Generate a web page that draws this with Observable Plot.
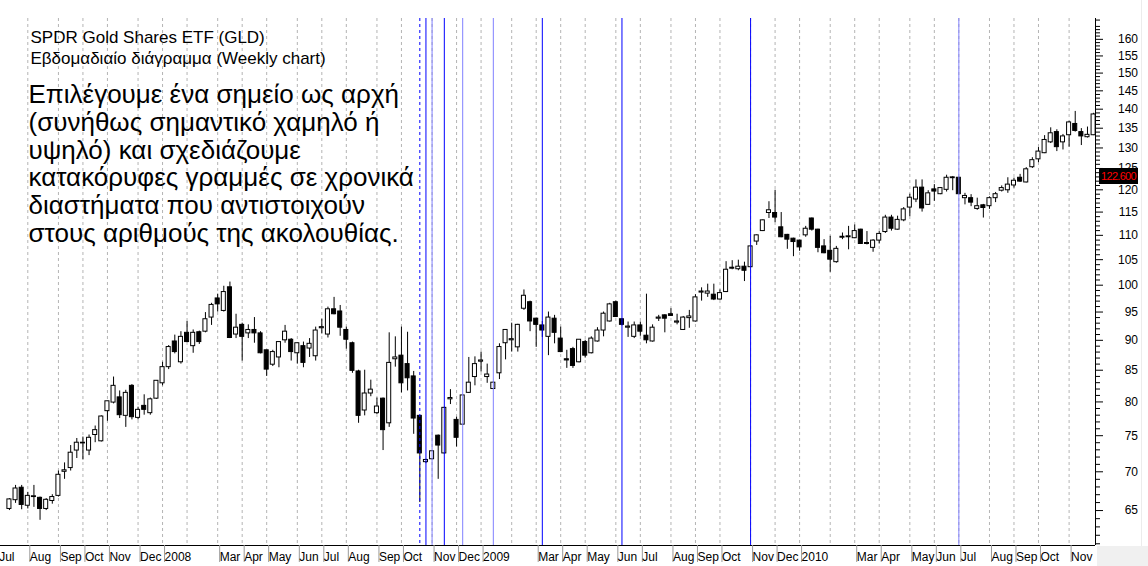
<!DOCTYPE html>
<html><head><meta charset="utf-8">
<script src="https://cdn.jsdelivr.net/npm/d3@7"></script>
<script src="https://cdn.jsdelivr.net/npm/@observablehq/plot@0.6"></script>
<style>
body{margin:0;background:#fff;}
#wrap{position:relative;width:1148px;height:566px;overflow:hidden;font-family:"Liberation Sans",Arial,sans-serif;background:#fff;}
.deco{position:absolute;}
</style></head><body><div id="wrap"></div>
<script>
// Weekly bars; first bar = week index -3 (week of 2007-07-13); week 0 = 2007-08-03
const baseWeek = "2007-08-03";
const firstIndex = -3;
const open = [65.2,66.3,67.9,
65.6,66.7,66.6,65.2,66.2,66.85,70.0,70.5,72.9,73.9,
72.9,75.1,74.2,78.6,79.9,80.7,77.9,82.5,77.6,79.4,
78.3,80.5,82.9,85.5,89.8,86.3,91.3,89.0,91.4,91.5,
94.0,97.5,95.2,99.6,91.0,92.7,91.2,91.8,91.2,88.3,
85.9,87.1,90.0,90.1,87.8,89.0,88.6,87.3,92.1,91.0,
95.5,95.1,91.8,89.5,84.8,78.7,81.3,78.3,80.5,76.8,
86.8,87.4,86.0,84.0,77.9,71.3,71.7,75.0,72.5,80.4,
77.3,76.6,81.4,83.9,86.4,83.9,82.0,84.5,89.5,90.0,
88.8,95.6,96.8,93.8,92.6,90.6,93.8,90.3,86.8,88.5,
86.3,89.7,87.8,89.8,91.7,93.3,96.8,93.7,92.2,90.6,
92.6,90.8,89.8,93.8,94.4,94.6,93.1,91.8,93.9,93.3,
98.6,98.4,98.2,97.3,98.7,103.2,103.1,103.6,103.5,108.7,
110.9,114.8,114.8,111.7,110.1,109.3,108.9,110.0,113.6,111.2,
107.7,106.8,104.5,109.5,109.6,109.4,111.2,108.4,107.4,108.9,
110.7,113.8,111.2,113.2,116.0,117.8,120.5,116.6,120.1,119.0,
120.0,122.7,122.8,118.1,118.1,115.7,116.5,116.3,118.1,119.8,
119.9,121.0,122.8,121.7,125.3,127.2,128.7,131.4,134.0,131.4,
133.2,136.1,134.0,132.7,133.2];
const high = [66.5,68.2,68.2,
67.3,68.2,66.7,66.5,67.0,70.1,71.2,73.6,74.6,74.8,
75.1,76.4,77.9,80.1,83.9,81.7,81.8,82.7,79.2,81.1,
80.6,83.3,86.3,89.1,90.9,91.5,93.3,91.8,91.6,94.9,
96.6,98.3,99.8,100.6,94.6,93.0,92.7,94.0,91.5,88.3,
88.3,89.7,92.6,90.3,89.5,89.7,90.3,92.3,93.7,95.9,
97.7,96.2,92.3,89.7,85.0,85.0,83.4,80.6,80.6,91.3,
90.6,92.3,91.4,84.8,77.9,71.7,72.9,75.1,79.2,81.9,
77.7,81.0,87.1,87.2,88.0,86.0,83.1,89.4,91.8,93.0,
92.8,99.1,97.0,93.9,93.3,95.0,94.4,92.3,88.3,88.8,
90.1,90.0,90.6,92.2,95.0,96.6,97.0,93.8,93.2,93.2,
93.2,98.3,92.7,94.4,94.5,95.6,94.6,94.2,95.3,98.2,
99.5,100.2,100.2,99.1,104.6,104.8,104.9,104.5,107.8,110.1,
113.3,117.3,119.9,114.9,110.2,109.4,109.0,111.9,113.7,111.3,
109.1,109.8,107.7,110.5,111.9,112.2,111.3,110.8,109.1,110.8,
114.3,114.3,114.1,116.0,119.0,122.3,122.3,119.8,121.2,120.5,
123.4,123.1,122.9,119.2,118.9,118.1,116.7,118.4,119.4,120.9,
122.8,122.7,123.6,125.2,127.6,130.1,133.1,135.1,134.6,133.4,
136.8,139.4,134.9,135.3,138.9];
const low = [65.0,65.9,65.1,
65.2,65.4,63.8,65.0,65.8,66.7,69.0,70.1,71.8,71.6,
72.2,74.0,74.1,77.1,79.7,77.5,76.2,77.3,77.3,78.0,
78.0,80.4,82.5,85.1,87.7,86.0,89.6,87.8,89.3,91.3,
92.6,95.0,95.0,90.3,90.3,86.5,90.3,89.5,87.7,84.0,
85.6,85.4,89.5,86.5,86.0,85.4,87.1,86.5,91.1,90.4,
94.5,90.7,88.5,84.5,76.8,77.9,80.8,78.1,72.9,76.2,
85.5,81.4,81.7,75.2,66.0,71.1,71.6,69.0,72.4,79.6,
73.4,76.5,81.3,82.5,84.7,82.9,81.9,83.5,86.7,88.0,
88.0,95.3,91.5,88.8,90.5,87.4,89.4,87.9,85.3,85.3,
86.2,87.0,87.7,89.7,90.6,93.2,94.0,92.5,90.5,90.3,
90.7,89.4,89.7,93.3,91.3,94.2,92.7,91.7,92.1,93.2,
97.0,97.7,97.1,97.2,98.6,103.0,102.8,100.7,103.4,107.9,
110.8,113.6,112.7,109.5,107.1,105.6,106.7,109.6,110.9,106.4,
106.2,102.5,104.3,109.1,107.0,109.3,108.1,108.0,106.5,108.2,
110.4,110.9,111.1,112.9,114.0,117.1,115.0,116.5,117.4,118.9,
119.5,119.8,118.9,116.6,116.2,115.4,113.7,115.6,117.1,119.5,
119.2,120.4,121.7,121.6,125.0,126.4,128.6,131.1,129.1,129.5,
130.2,134.0,130.6,132.5,133.1];
const close = [66.4,67.8,65.7,
66.85,66.8,65.2,66.35,66.7,69.6,70.2,72.6,74.0,74.0,
74.7,75.8,77.8,80.1,82.5,78.0,81.4,77.7,78.8,78.8,
80.4,83.3,85.5,88.85,88.0,90.6,89.7,91.3,89.7,93.7,
96.3,96.4,98.7,90.4,92.2,90.6,91.8,91.2,87.8,85.1,
88.0,89.7,91.5,88.0,89.5,86.2,89.4,91.7,92.3,95.5,
94.6,92.2,90.1,84.9,77.9,81.3,81.9,79.3,75.8,86.2,
87.1,82.9,83.7,77.5,72.5,71.6,72.8,73.6,79.1,80.6,
74.7,81.0,83.0,86.0,86.6,84.3,83.0,88.85,91.8,90.2,
92.7,98.0,93.3,92.7,91.7,94.0,91.3,88.0,86.6,85.7,
90.1,87.4,90.3,91.7,94.7,96.4,94.1,92.7,92.4,92.6,
91.5,90.0,92.2,94.0,93.8,94.3,93.3,94.0,94.2,97.7,
98.8,98.8,97.3,98.5,103.0,103.4,103.6,102.8,107.7,110.0,
113.2,115.4,113.8,109.6,109.1,108.6,107.5,111.4,111.2,107.4,
106.3,105.0,107.2,109.7,109.8,110.9,108.2,108.2,108.9,110.3,
113.8,111.4,113.3,115.6,118.2,120.5,115.8,119.2,119.6,120.4,
122.8,122.9,119.0,118.6,117.1,116.3,115.9,118.1,119.0,120.4,
121.2,122.1,121.9,124.8,127.0,129.1,132.0,133.7,130.2,132.9,
136.5,134.3,132.9,133.3,138.6];

// Month ticks (week index of first weekly bar of each month) and their labels
const tickWeeks = [-5,0,5,9,13,18,22,26,31,35,39,44,48,52,57,61,66,70,74,79,83,87,91,96,100,105,109,113,118,122,126,131,135,139,144,148,152,157,161,165,170];
const tickLabels = ["Jul","Aug","Sep","Oct","Nov","Dec","2008","","Mar","Apr","May","Jun","Jul","Aug","Sep","Oct","Nov","Dec","2009","","Mar","Apr","May","Jun","Jul","Aug","Sep","Oct","Nov","Dec","2010","","Mar","Apr","May","Jun","Jul","Aug","Sep","Oct","Nov"];

// Fibonacci time lines (week index) and their colours
const fibWeeks = [64,65,66,68,71,76,84,97,118,152];
const fibColors = ["#0000ff","#0000ff","#8080ff","#0000ff","#8080ff","#8080ff","#0000ff","#0000ff","#0000ff","#8080ff"];
const fibDashed = [true,false,false,false,false,false,false,false,false,false];

const yMajor = [65,70,75,80,85,90,95,100,105,110,115,120,125,130,135,140,145,150,155,160];
const yMinor = d3.range(61,167).filter(v => v % 5 !== 0);
const lastPrice = 122.6;

const title = "SPDR Gold Shares ETF (GLD)\nΕβδομαδιαίο διάγραμμα (Weekly chart)";
const note = "Επιλέγουμε ένα σημείο ως αρχή\n(συνήθως σημαντικό χαμηλό ή\nυψηλό) και σχεδιάζουμε\nκατακόρυφες γραμμές σε χρονικά\nδιαστήματα που αντιστοιχούν\nστους αριθμούς της ακολουθίας.";

const W = 7 * 864e5;
const base = new Date(baseWeek + "T00:00:00Z");
const weekDate = i => new Date(base.getTime() + i * W);

const bars = open.map((o, k) => ({
  date: weekDate(k + firstIndex), open: o, high: high[k], low: low[k], close: close[k]
}));
const gridDates = tickWeeks.map(weekDate);
const labeled = tickWeeks.map((w, j) => ({d: weekDate(w), t: tickLabels[j]})).filter(e => e.t !== "");
const labelMap = new Map(labeled.map(e => [+e.d, e.t]));
const fib = fibWeeks.map((w, j) => ({date: weekDate(w), color: fibColors[j], dashed: fibDashed[j]}));

const xDomain = [weekDate(-4.457), weekDate(174.31)];
const yDomain = [60.8, 166.5];

const chart = Plot.plot({
  width: 1148, height: 566,
  marginLeft: 0, marginRight: 53, marginTop: 18, marginBottom: 21,
  style: {fontFamily: "'Liberation Sans', Arial, sans-serif", fontSize: "12px", background: "white", color: "black"},
  x: {type: "utc", domain: xDomain, label: null},
  y: {type: "log", domain: yDomain, label: null},
  color: {type: "identity"},
  marks: [
    Plot.ruleX(gridDates, {stroke: "#b4b4b4", strokeDasharray: "3,3"}),
    Plot.text([note], {frameAnchor: "top-left", text: d => d, dx: 28, dy: 65.2, fontSize: 26, lineHeight: 1.065, textAnchor: "start", lineAnchor: "top", fill: "black"}),
    Plot.text([title], {frameAnchor: "top-left", text: d => d, dx: 30, dy: 8.9, fontSize: 17, lineHeight: 1.265, textAnchor: "start", lineAnchor: "top", fill: "black"}),
    Plot.ruleX(bars, {x: "date", y1: "low", y2: "high", stroke: "black", strokeWidth: 1}),
    Plot.rect(bars, {
      x1: d => new Date(d.date.getTime() - 0.33 * W),
      x2: d => new Date(d.date.getTime() + 0.33 * W),
      y1: "open", y2: "close",
      fill: d => d.close >= d.open ? "white" : "black",
      stroke: "black", strokeWidth: 1
    }),
    Plot.ruleX(fib.filter(f => !f.dashed), {x: "date", stroke: "color", strokeWidth: 1}),
    Plot.ruleX(fib.filter(f => f.dashed), {x: "date", stroke: "color", strokeWidth: 1, strokeDasharray: "3,3"}),
    Plot.ruleY([yDomain[0]], {stroke: "black"}),
    Plot.ruleX([xDomain[1]], {stroke: "black"}),
    Plot.axisY(yMinor, {anchor: "right", tickSize: 4, tickFormat: () => "", label: null, stroke: "black"}),
    Plot.axisY(yMajor, {anchor: "right", tickSize: 7, tickPadding: 35.5, textAnchor: "end", tickFormat: d => String(d), label: null, stroke: "black", fill: "#000", fontSize: 12}),
    Plot.axisX(labeled.map(e => e.d), {anchor: "bottom", tickSize: 17, tickPadding: -10.5, textAnchor: "start", dx: 2, tickFormat: d => labelMap.get(+d), label: null, stroke: "#9a9a9a", fill: "#000", fontSize: 12})
  ]
});

const wrap = document.getElementById("wrap");
wrap.appendChild(chart);

// decorations: right panel bits and the last-price tag, positioned through the y scale
const panel = document.createElement("div");
panel.className = "deco";
Object.assign(panel.style, {left: "1097px", top: "546px", width: "51px", height: "20px", background: "#f0f0f0"});
wrap.appendChild(panel);
const vline = document.createElement("div");
vline.className = "deco";
Object.assign(vline.style, {left: "1141px", top: "0px", width: "1px", height: "546px", background: "#ececec"});
wrap.appendChild(vline);

const py = chart.scale("y").apply(lastPrice);
const tag = document.createElement("div");
tag.className = "deco";
tag.textContent = lastPrice.toFixed(3);
Object.assign(tag.style, {left: "1099px", top: (py - 10) + "px", width: "39px", height: "16px", background: "#000", color: "#ff0000", font: "11px 'Liberation Sans', Arial, sans-serif", letterSpacing: "-0.7px", lineHeight: "16px", textAlign: "center", whiteSpace: "nowrap", overflow: "visible"});
wrap.appendChild(tag);
</script>
</body></html>
